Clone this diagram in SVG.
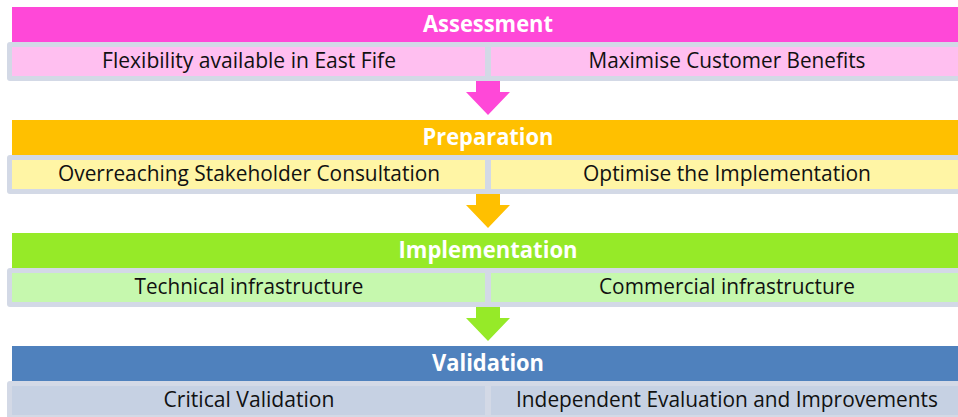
<svg xmlns="http://www.w3.org/2000/svg" width="958" height="417" viewBox="0 0 958 417">
<style>
.hdr{font-family:"Open Sans","Liberation Sans",sans-serif;font-weight:bold;font-size:23px;fill:#fff;text-anchor:middle}
.cell{font-family:"Open Sans","Liberation Sans",sans-serif;font-size:21px;fill:#111;text-anchor:middle}
.bord{fill:#D3D9E6}
.arrow{stroke:none}
</style>
<rect width="958" height="417" fill="#fff"/>
<g id="assessment">
<rect x="12" y="7" width="950" height="35" fill="#FF48D8"/>
<rect class="bord" x="7" y="42" width="960" height="39" rx="3"/>
<rect x="12" y="47" width="473" height="29" fill="#FFBFF0"/>
<rect x="491" y="47" width="472" height="29" fill="#FFBFF0"/>
<text class="hdr" x="488" y="32" textLength="130" lengthAdjust="spacingAndGlyphs">Assessment</text>
<text class="cell" x="249" y="68" textLength="294" lengthAdjust="spacingAndGlyphs">Flexibility available in East Fife</text>
<text class="cell" x="727" y="68" textLength="277" lengthAdjust="spacingAndGlyphs">Maximise Customer Benefits</text>
</g>
<g id="preparation">
<rect x="12" y="120" width="950" height="35" fill="#FFC000"/>
<rect class="bord" x="7" y="155" width="960" height="39" rx="3"/>
<rect x="12" y="160" width="473" height="29" fill="#FFF5A5"/>
<rect x="491" y="160" width="472" height="29" fill="#FFF5A5"/>
<text class="hdr" x="488" y="145" textLength="131" lengthAdjust="spacingAndGlyphs">Preparation</text>
<text class="cell" x="249" y="181" textLength="382" lengthAdjust="spacingAndGlyphs">Overreaching Stakeholder Consultation</text>
<text class="cell" x="727" y="181" textLength="288" lengthAdjust="spacingAndGlyphs">Optimise the Implementation</text>
</g>
<g id="implementation">
<rect x="12" y="233" width="950" height="35" fill="#96EA28"/>
<rect class="bord" x="7" y="268" width="960" height="39" rx="3"/>
<rect x="12" y="273" width="473" height="29" fill="#C6F8AE"/>
<rect x="491" y="273" width="472" height="29" fill="#C6F8AE"/>
<text class="hdr" x="488" y="258" textLength="179" lengthAdjust="spacingAndGlyphs">Implementation</text>
<text class="cell" x="249" y="294" textLength="229" lengthAdjust="spacingAndGlyphs">Technical infrastructure</text>
<text class="cell" x="727" y="294" textLength="256" lengthAdjust="spacingAndGlyphs">Commercial infrastructure</text>
</g>
<g id="validation">
<rect x="12" y="346" width="950" height="35" fill="#4F81BD"/>
<rect class="bord" x="7" y="381" width="960" height="39" rx="3"/>
<rect x="12" y="386" width="473" height="29" fill="#C6D1E3"/>
<rect x="491" y="386" width="472" height="29" fill="#C6D1E3"/>
<text class="hdr" x="488" y="371" textLength="112" lengthAdjust="spacingAndGlyphs">Validation</text>
<text class="cell" x="249" y="407" textLength="171" lengthAdjust="spacingAndGlyphs">Critical Validation</text>
<text class="cell" x="727" y="407" textLength="422" lengthAdjust="spacingAndGlyphs">Independent Evaluation and Improvements</text>
</g>
<g id="connectors">
<polygon class="arrow" fill="#FF48D8" points="476,81 500,81 500,92 510,92 488,115 466,92 476,92"/>
<polygon class="arrow" fill="#FFC000" points="476,194 500,194 500,205 510,205 488,228 466,205 476,205"/>
<polygon class="arrow" fill="#96EA28" points="476,307 500,307 500,318 510,318 488,341 466,318 476,318"/>
</g>
</svg>
